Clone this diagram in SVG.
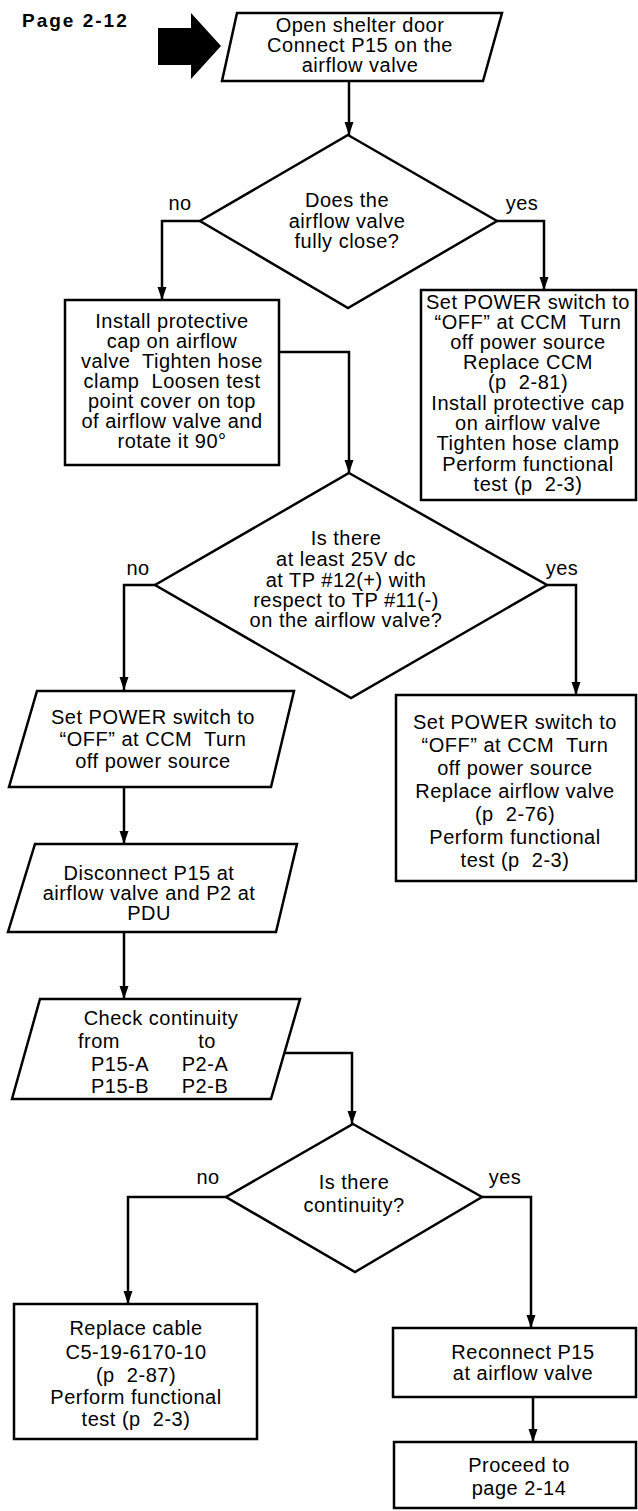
<svg xmlns="http://www.w3.org/2000/svg" width="638" height="1511" viewBox="0 0 638 1511">
<style>
  .shape { fill: #fff; stroke: #000; stroke-width: 2.5; stroke-linejoin: miter; }
  .conn { fill: none; stroke: #000; stroke-width: 2.5; marker-end: url(#arr); }
  text { font-family: "Liberation Sans", Arial, Helvetica, sans-serif; font-size: 20px; fill: #000; letter-spacing: 0.5px; }
  .c { text-anchor: middle; }
  .lbl { text-anchor: middle; }
  .title { font-weight: bold; font-size: 19px; letter-spacing: 2px; }
</style>
<defs>
  <marker id="arr" markerUnits="userSpaceOnUse" markerWidth="13" markerHeight="10" refX="13" refY="5" orient="auto">
    <path d="M0,0.5 L13,5 L0,9.5 z" fill="#000"/>
  </marker>
</defs>
<rect width="638" height="1511" fill="#fff"/>

<g id="page-label">
  <text class="title" x="22" y="27">Page 2-12</text>
  <polygon points="158,28 191,28 191,13 221,46 191,79 191,65 158,65" fill="#000"/>
</g>

<g id="connectors">
  <polyline class="conn" points="349,81 349,135"/>
  <polyline class="conn" points="200,221 162,221 162,300"/>
  <polyline class="conn" points="497,221 544,221 544,290"/>
  <polyline class="conn" points="279,352 349,352 349,473"/>
  <polyline class="conn" points="155,585 124,585 124,690"/>
  <polyline class="conn" points="547,585 576,585 576,695"/>
  <polyline class="conn" points="124,787 124,844"/>
  <polyline class="conn" points="124,932 124,999"/>
  <polyline class="conn" points="285,1053 352,1053 352,1124"/>
  <polyline class="conn" points="226,1197 128,1197 128,1304"/>
  <polyline class="conn" points="482,1197 531,1197 531,1328"/>
  <polyline class="conn" points="533,1397 533,1442"/>
</g>

<g id="labels">
  <text class="lbl" x="180" y="210">no</text>
  <text class="lbl" x="522" y="210">yes</text>
  <text class="lbl" x="138" y="575">no</text>
  <text class="lbl" x="562" y="575">yes</text>
  <text class="lbl" x="208" y="1184">no</text>
  <text class="lbl" x="505" y="1184">yes</text>
</g>

<g id="n-start">
  <polygon class="shape" points="237,13 502,13 483,81 222,81"/>
  <text class="c" x="360" y="32">Open shelter door</text>
  <text class="c" x="360" y="52">Connect P15 on the</text>
  <text class="c" x="360" y="72">airflow valve</text>
</g>

<g id="d-close">
  <polygon class="shape" points="348,135 497,221 348,308 200,221"/>
  <text class="c" x="347" y="207">Does the</text>
  <text class="c" x="347" y="228">airflow valve</text>
  <text class="c" x="347" y="248">fully close?</text>
</g>

<g id="n-install">
  <rect class="shape" x="65" y="300" width="214" height="165"/>
  <text class="c" x="172" y="328">Install protective</text>
  <text class="c" x="172" y="348">cap on airflow</text>
  <text class="c" x="172" y="368" xml:space="preserve">valve  Tighten hose</text>
  <text class="c" x="172" y="388" xml:space="preserve">clamp  Loosen test</text>
  <text class="c" x="172" y="408">point cover on top</text>
  <text class="c" x="172" y="428">of airflow valve and</text>
  <text class="c" x="172" y="448">rotate it 90°</text>
</g>

<g id="n-replace-ccm">
  <rect class="shape" x="421" y="290" width="215" height="210"/>
  <text class="c" x="528" y="309">Set POWER switch to</text>
  <text class="c" x="528" y="329" xml:space="preserve">“OFF” at CCM  Turn</text>
  <text class="c" x="528" y="349">off power source</text>
  <text class="c" x="528" y="369">Replace CCM</text>
  <text class="c" x="528" y="389" xml:space="preserve">(p  2-81)</text>
  <text class="c" x="528" y="410">Install protective cap</text>
  <text class="c" x="528" y="430">on airflow valve</text>
  <text class="c" x="528" y="450">Tighten hose clamp</text>
  <text class="c" x="528" y="471">Perform functional</text>
  <text class="c" x="528" y="491" xml:space="preserve">test (p  2-3)</text>
</g>

<g id="d-voltage">
  <polygon class="shape" points="349,473 547,585 351,698 155,585"/>
  <text class="c" x="346" y="545">Is there</text>
  <text class="c" x="346" y="566">at least 25V dc</text>
  <text class="c" x="346" y="587">at TP #12(+) with</text>
  <text class="c" x="346" y="607">respect to TP #11(-)</text>
  <text class="c" x="346" y="627">on the airflow valve?</text>
</g>

<g id="n-power-off">
  <polygon class="shape" points="37,691 294,691 271,787 9,787"/>
  <text class="c" x="153" y="724">Set POWER switch to</text>
  <text class="c" x="153" y="746" xml:space="preserve">“OFF” at CCM  Turn</text>
  <text class="c" x="153" y="768">off power source</text>
</g>

<g id="n-replace-valve">
  <rect class="shape" x="396" y="695" width="240" height="186"/>
  <text class="c" x="515" y="729">Set POWER switch to</text>
  <text class="c" x="515" y="752" xml:space="preserve">“OFF” at CCM  Turn</text>
  <text class="c" x="515" y="775">off power source</text>
  <text class="c" x="515" y="798">Replace airflow valve</text>
  <text class="c" x="515" y="821" xml:space="preserve">(p  2-76)</text>
  <text class="c" x="515" y="844">Perform functional</text>
  <text class="c" x="515" y="867" xml:space="preserve">test (p  2-3)</text>
</g>

<g id="n-disconnect">
  <polygon class="shape" points="35,844 297,844 276,932 8,932"/>
  <text class="c" x="149" y="880">Disconnect P15 at</text>
  <text class="c" x="149" y="900">airflow valve and P2 at</text>
  <text class="c" x="149" y="920">PDU</text>
</g>

<g id="n-check">
  <polygon class="shape" points="40,999 300,999 271,1099 12,1099"/>
  <text class="c" x="161" y="1025">Check continuity</text>
  <text class="c" x="99" y="1048">from</text>
  <text class="c" x="207" y="1048">to</text>
  <text class="c" x="120" y="1071">P15-A</text>
  <text class="c" x="205" y="1071">P2-A</text>
  <text class="c" x="120" y="1093">P15-B</text>
  <text class="c" x="205" y="1093">P2-B</text>
</g>

<g id="d-continuity">
  <polygon class="shape" points="353,1124 482,1197 355,1272 226,1197"/>
  <text class="c" x="354" y="1189">Is there</text>
  <text class="c" x="354" y="1212">continuity?</text>
</g>

<g id="n-replace-cable">
  <rect class="shape" x="14" y="1304" width="243" height="135"/>
  <text class="c" x="136" y="1335">Replace cable</text>
  <text class="c" x="136" y="1359">C5-19-6170-10</text>
  <text class="c" x="136" y="1382" xml:space="preserve">(p  2-87)</text>
  <text class="c" x="136" y="1404">Perform functional</text>
  <text class="c" x="136" y="1426" xml:space="preserve">test (p  2-3)</text>
</g>

<g id="n-reconnect">
  <rect class="shape" x="393" y="1328" width="243" height="69"/>
  <text class="c" x="523" y="1359">Reconnect P15</text>
  <text class="c" x="523" y="1380">at airflow valve</text>
</g>

<g id="n-proceed">
  <rect class="shape" x="394" y="1442" width="242" height="66"/>
  <text class="c" x="519" y="1472">Proceed to</text>
  <text class="c" x="519" y="1495">page 2-14</text>
</g>
</svg>
